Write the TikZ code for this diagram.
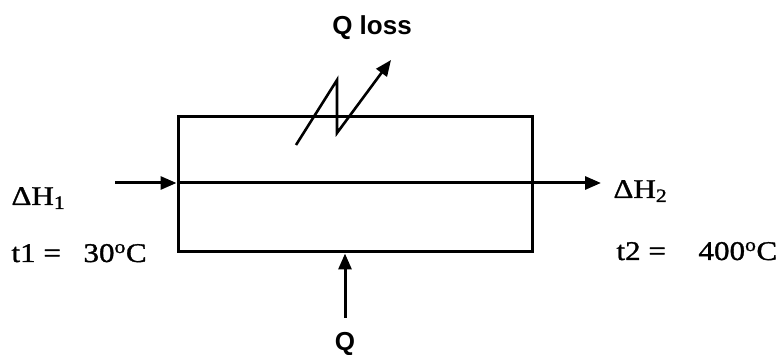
\documentclass[tikz,border=0pt]{standalone}
\usepackage{fontspec}
\setmainfont{Liberation Serif}
\setsansfont{Liberation Sans}
\newfontfamily\wideserif{Liberation Serif}[FakeStretch=1.15,FakeBold=1.2]
\usetikzlibrary{arrows.meta}
\begin{document}
\begin{tikzpicture}[x=1pt,y=-1pt,
  line width=3pt,
  tip/.style={-{Triangle[length=16pt,width=13pt]}},
  serif/.style={font=\wideserif\fontsize{27}{29}\selectfont, inner sep=0pt},
  sanslab/.style={font=\sffamily\bfseries\fontsize{26}{28}\selectfont, inner sep=0pt}]
\useasboundingbox (0,0) rectangle (779,355);
\node[draw, line width=3pt, minimum width=354pt, minimum height=135pt, inner sep=0pt] (box) at (355,184.5) {};
\coordinate (inL) at (115,183);
\coordinate (inB) at (box.west |- inL);
\coordinate (outR) at (601,183);
\draw[tip] (inL) -- (inB);
\draw[tip] (inB) -- (outR);
% heat loss zigzag
\coordinate (z0) at (296,145);
\coordinate (z1) at (337,80);
\coordinate (z2) at (337,133);
\coordinate (z3) at (391,60);
\draw[tip, line width=2.6pt] (z0) -- (z1) -- (z2) -- (z3);
\node[sanslab, anchor=base] (qloss) at (372,35) {Q loss};
% heat input
\coordinate (qin) at (345,318);
\draw[tip] (qin) -- (qin |- box.south);
\node[sanslab, anchor=base] (q) at (345,350) {Q};
% labels
\node[serif, anchor=base west] (h1) at (10,205) {ΔH\textsubscript{1}};
\node[serif, anchor=base west] (h2) at (612,198) {ΔH\textsubscript{2}};
\node[serif, anchor=base west] (t1) at (10,262) {\makebox[72pt][l]{t1 =}30\textsuperscript{o}C};
\node[serif, anchor=base west] (t2) at (615,260) {\makebox[82pt][l]{t2 =}400\textsuperscript{o}C};
\end{tikzpicture}
\end{document}
